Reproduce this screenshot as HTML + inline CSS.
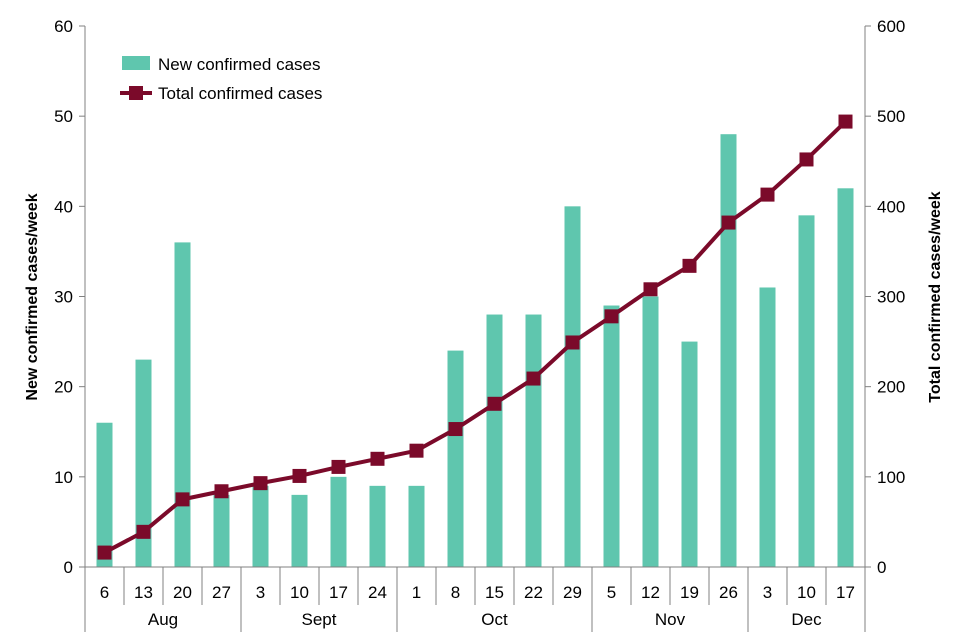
<!DOCTYPE html>
<html><head><meta charset="utf-8"><style>
html,body{margin:0;padding:0;background:#fff;}
svg{display:block;font-family:"Liberation Sans",Arial,sans-serif;}
</style></head><body>
<svg id="chart" width="960" height="640" viewBox="0 0 960 640"></svg>
<script>
const categories=["6","13","20","27","3","10","17","24","1","8","15","22","29","5","12","19","26","3","10","17"];
const newCases=[16,23,36,8,9,8,10,9,9,24,28,28,40,29,30,25,48,31,39,42];
const totalCases=[16,39,75,84,93,101,111,120,129,153,181,209,249,278,308,334,382,413,452,494];
const leftTicks=[0,10,20,30,40,50,60];
const rightTicks=[0,100,200,300,400,500,600];
const months=["Aug","Sept","Oct","Nov","Dec"];
const monthCounts=[4,4,5,4,3];

const NS="http://www.w3.org/2000/svg";
const svg=document.getElementById('chart');
const X0=85,X1=865,Y0=567,Y1=26;
const bw=(X1-X0)/categories.length;
const xc=i=>X0+bw*(i+0.5);
const yL=v=>Y0-(v/60)*(Y0-Y1);
const yR=v=>Y0-(v/600)*(Y0-Y1);
function mk(tag,attrs,parent){const e=document.createElementNS(NS,tag);for(const k in attrs)e.setAttribute(k,attrs[k]);(parent||svg).appendChild(e);return e;}
function txt(s,attrs){const e=mk('text',attrs);e.textContent=s;return e;}

// bars
newCases.forEach((v,i)=>{
 const r=mk('rect',{x:xc(i)-8,y:yL(v),width:16,height:Y0-yL(v),fill:'#5fc6ae'});
 
 
});
// axes
const axes=mk('g',{stroke:'#808080','stroke-width':1});


mk('line',{x1:X0,y1:Y1,x2:X0,y2:Y0},axes);
mk('line',{x1:X1,y1:Y1,x2:X1,y2:Y0},axes);
mk('line',{x1:X0,y1:Y0,x2:X1,y2:Y0},axes);
leftTicks.forEach(t=>{
 mk('line',{x1:X0-6,y1:yL(t),x2:X0,y2:yL(t)},axes);
 const e=txt(String(t),{x:X0-12,y:yL(t)+6,'text-anchor':'end','font-size':17,fill:'#000'});
 
 
});
rightTicks.forEach(t=>{
 mk('line',{x1:X1,y1:yR(t),x2:X1+6,y2:yR(t)},axes);
 const e=txt(String(t),{x:X1+12,y:yR(t)+6,'text-anchor':'start','font-size':17,fill:'#000'});
 
 
});
// category ticks and labels
let boundaries=[0];let acc=0;monthCounts.forEach(c=>{acc+=c;boundaries.push(acc);});
for(let i=0;i<=categories.length;i++){
 const x=X0+bw*i;
 const big=boundaries.includes(i);
 mk('line',{x1:x,y1:Y0,x2:x,y2:big?632:605},axes);
}
categories.forEach((c,i)=>{
 const e=txt(c,{x:xc(i),y:598,'text-anchor':'middle','font-size':17,fill:'#000'});
 
 
});
months.forEach((m,j)=>{
 const mid=X0+bw*(boundaries[j]+boundaries[j+1])/2;
 const e=txt(m,{x:mid,y:625,'text-anchor':'middle','font-size':17,fill:'#000'});
 
 
});
// line
const pts=totalCases.map((v,i)=>xc(i)+','+yR(v)).join(' ');
const pl=mk('polyline',{points:pts,fill:'none',stroke:'#7b0a2a','stroke-width':4,'stroke-linejoin':'round'});


totalCases.forEach((v,i)=>{
 const r=mk('rect',{x:xc(i)-7,y:yR(v)-7,width:14,height:14,fill:'#7b0a2a'});
 
 
});
// axis titles
const yt=txt('New confirmed cases/week',{x:0,y:0,transform:'translate(37,297) rotate(-90)','text-anchor':'middle','font-size':16,'font-weight':'bold',fill:'#000'});


const yt2=txt('Total confirmed cases/week',{x:0,y:0,transform:'translate(940,297) rotate(-90)','text-anchor':'middle','font-size':16,'font-weight':'bold',fill:'#000'});


// legend
const lg=mk('g',{});


const s1=mk('rect',{x:122,y:56,width:28,height:14,fill:'#5fc6ae'},lg);


const t1=txt('New confirmed cases',{x:158,y:70,'font-size':17,fill:'#000'});


mk('line',{x1:120,y1:93,x2:152,y2:93,stroke:'#7b0a2a','stroke-width':4},lg);
const s2=mk('rect',{x:129,y:86,width:14,height:14,fill:'#7b0a2a'},lg);


const t2=txt('Total confirmed cases',{x:158,y:99,'font-size':17,fill:'#000'});


</script>
</body></html>
